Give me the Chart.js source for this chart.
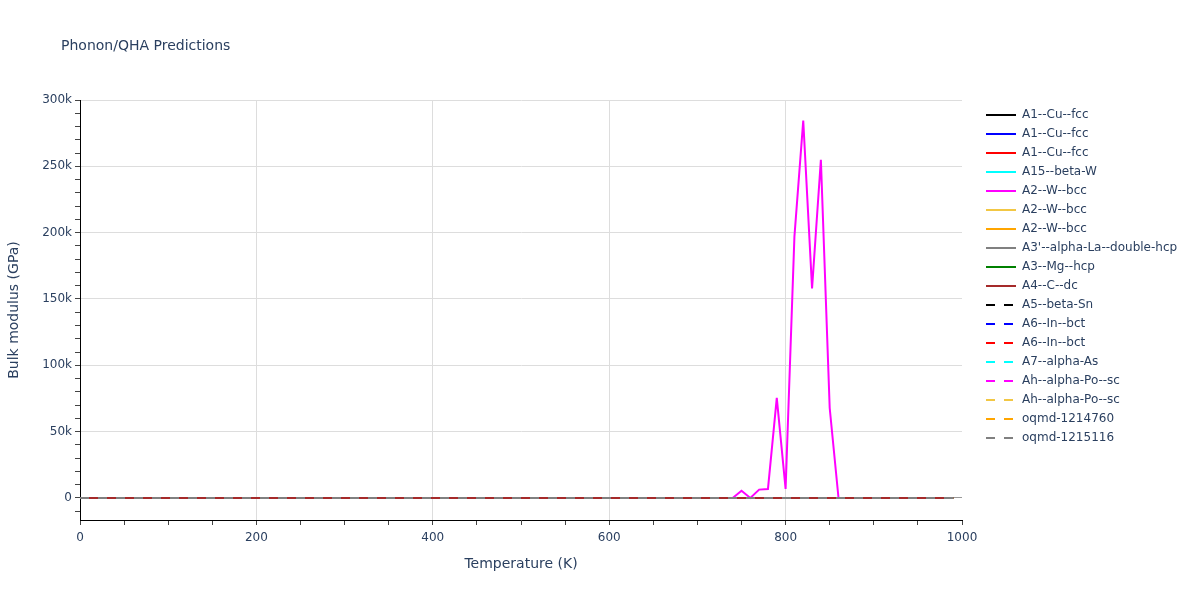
<!DOCTYPE html>
<html>
<head>
<meta charset="utf-8">
<script src="https://cdn.jsdelivr.net/npm/chart.js@4.4.1/dist/chart.umd.min.js"></script>
<style>
  html, body { margin: 0; padding: 0; background: #fff; }
  #wrap { width: 1200px; height: 600px; }
</style>
</head>
<body>
<div id="wrap"><canvas id="c" width="1200" height="600"></canvas></div>
<script>
// ---- data ----
const temperatures = [0,10,20,30,40,50,60,70,80,90,100,110,120,130,140,150,160,170,180,190,200,210,220,230,240,250,260,270,280,290,300,310,320,330,340,350,360,370,380,390,400,410,420,430,440,450,460,470,480,490,500,510,520,530,540,550,560,570,580,590,600,610,620,630,640,650,660,670,680,690,700,710,720,730,740,750,760,770,780,790,800,810,820,830,840,850,860,870,880,890,900,910,920,930,940,950,960,970,980,990];

// A2--W--bcc (magenta) bulk modulus, GPa
const a2WbccMagenta = [0,0,0,0,0,0,0,0,0,0,0,0,0,0,0,0,0,0,0,0,0,0,0,0,0,0,0,0,0,0,0,0,0,0,0,0,0,0,0,0,0,0,0,0,0,0,0,0,0,0,0,0,0,0,0,0,0,0,0,0,0,0,0,0,0,0,0,0,0,0,0,0,0,0,0,5500,0,6300,6800,75400,6800,197000,284500,158000,255000,67800,0,0,0,0,0,0,0,0,0,0,0,0,0,0];

// all other phases sit on the zero line at this scale (values read as ~0 GPa)
const flatNearZero = [0,0,0,0,0,0,0,0,0,0,0,0,0,0,0,0,0,0,0,0,0,0,0,0,0,0,0,0,0,0,0,0,0,0,0,0,0,0,0,0,0,0,0,0,0,0,0,0,0,0,0,0,0,0,0,0,0,0,0,0,0,0,0,0,0,0,0,0,0,0,0,0,0,0,0,0,0,0,0,0,0,0,0,0,0,0,0,0,0,0,0,0,0,0,0,0,0,0,0,0];

const seriesNames = ["A1--Cu--fcc","A1--Cu--fcc","A1--Cu--fcc","A15--beta-W","A2--W--bcc","A2--W--bcc","A2--W--bcc","A3'--alpha-La--double-hcp","A3--Mg--hcp","A4--C--dc","A5--beta-Sn","A6--In--bct","A6--In--bct","A7--alpha-As","Ah--alpha-Po--sc","Ah--alpha-Po--sc","oqmd-1214760","oqmd-1215116"];
const seriesValues = [flatNearZero,flatNearZero,flatNearZero,flatNearZero,a2WbccMagenta,flatNearZero,flatNearZero,flatNearZero,flatNearZero,flatNearZero,flatNearZero,flatNearZero,flatNearZero,flatNearZero,flatNearZero,flatNearZero,flatNearZero,flatNearZero];
const seriesColors = ["#000000","#0000ff","#ff0000","#00ffff","#ff00ff","#f2c744","#ffa500","#808080","#008000","#a52a2a","#000000","#0000ff","#ff0000","#00ffff","#ff00ff","#f2c744","#ffa500","#808080"];
const seriesDashed = [false,false,false,false,false,false,false,false,false,false,true,true,true,true,true,true,true,true];

// tick values (all tick marks) and the labelled ones
const xTickValues = [0,50,100,150,200,250,300,350,400,450,500,550,600,650,700,750,800,850,900,950,1000];
const xTickLabels = [0,200,400,600,800,1000];
const yTickValues = [-10000,0,10000,20000,30000,40000,50000,60000,70000,80000,90000,100000,110000,120000,130000,140000,150000,160000,170000,180000,190000,200000,210000,220000,230000,240000,250000,260000,270000,280000,290000,300000];
const yTickLabels = [0,50000,100000,150000,200000,250000,300000];

// ---- chart ----
const FONT = '"DejaVu Sans", Verdana, sans-serif';
const TXT = '#2a3f5f';
Chart.defaults.font.family = FONT;
Chart.defaults.color = TXT;

const N = seriesNames.length;
const datasets = seriesNames.map((name, i) => ({
  label: name,
  data: temperatures.map((t, k) => ({x: t, y: seriesValues[i][k]})),
  borderColor: seriesColors[i],
  backgroundColor: seriesColors[i],
  borderWidth: 2,
  borderDash: seriesDashed[i] ? [9, 9] : [],
  pointRadius: 0,
  pointHoverRadius: 0,
  tension: 0,
  fill: false,
  order: N - i
}));

const titlePlugin = {
  id: 'plotTitle',
  afterDraw(chart) {
    const ctx = chart.ctx;
    ctx.save();
    ctx.font = '14px ' + FONT;
    ctx.fillStyle = TXT;
    ctx.textBaseline = 'alphabetic';
    ctx.textAlign = 'left';
    ctx.fillText('Phonon/QHA Predictions', 61, 50);
    ctx.restore();
  }
};
const legendPlace = {
  id: 'legendPlace',
  beforeDraw(chart) {
    const lg = chart.legend;
    if (lg) { lg.left = 979; lg.top = 102; lg.right = 1200; lg.width = 221; }
  }
};

new Chart(document.getElementById('c'), {
  type: 'line',
  data: { datasets },
  plugins: [titlePlugin, legendPlace],
  options: {
    responsive: false,
    animation: false,
    events: [],
    layout: { padding: { top: 100, left: 0, bottom: 0, right: 78 } },
    plugins: {
      title: { display: false },
      tooltip: { enabled: false },
      legend: {
        display: true,
        position: 'right',
        align: 'start',
        maxWidth: 160,
        labels: {
          usePointStyle: true,
          pointStyle: 'line',
          pointStyleWidth: 30,
          boxHeight: 12,
          padding: 7,
          color: TXT,
          font: { size: 12, family: FONT },
          sort: (a, b) => a.datasetIndex - b.datasetIndex,
          generateLabels: chart => {
            const items = Chart.defaults.plugins.legend.labels.generateLabels(chart);
            return items.map(it => {
              const ds = chart.data.datasets[it.datasetIndex];
              return Object.assign(it, {
                strokeStyle: ds.borderColor,
                fillStyle: ds.borderColor,
                lineWidth: 2,
                lineDash: ds.borderDash,
                lineDashOffset: 0,
                lineCap: 'butt',
                pointStyle: 'line'
              });
            });
          }
        }
      }
    },
    scales: {
      x: {
        type: 'linear',
        min: 0, max: 1000,
        afterFit: s => { s.height = 80; },
        afterBuildTicks: s => { s.ticks = xTickValues.map(v => ({value: v})); },
        border: { display: true, color: '#000', width: 1 },
        grid: {
          color: c => (c.tick && xTickLabels.includes(c.tick.value) && c.tick.value !== 0 && c.tick.value !== 1000) ? '#dddddd' : 'rgba(0,0,0,0)',
          tickColor: '#444',
          tickLength: 5,
          drawTicks: true
        },
        ticks: {
          autoSkip: false,
          maxRotation: 0,
          padding: 6,
          color: TXT,
          font: { size: 12 },
          callback: v => xTickLabels.includes(v) ? String(v) : ''
        },
        title: {
          display: true,
          text: 'Temperature (K)',
          color: TXT,
          font: { size: 14 },
          padding: { top: 0, bottom: 27 }
        }
      },
      y: {
        type: 'linear',
        min: -16600, max: 300000,
        afterFit: s => { s.width = 80; },
        afterBuildTicks: s => { s.ticks = yTickValues.map(v => ({value: v})); },
        border: { display: true, color: '#000', width: 1 },
        grid: {
          color: c => {
            if (!c.tick) return 'rgba(0,0,0,0)';
            const v = c.tick.value;
            if (v === 0) return '#999999';
            return yTickLabels.includes(v) ? '#dddddd' : 'rgba(0,0,0,0)';
          },
          tickColor: '#444',
          tickLength: 5,
          drawTicks: true
        },
        ticks: {
          autoSkip: false,
          padding: 3,
          color: TXT,
          font: { size: 12 },
          callback: v => yTickLabels.includes(v) ? (v === 0 ? '0' : (v / 1000) + 'k') : ''
        },
        title: {
          display: true,
          text: 'Bulk modulus (GPa)',
          color: TXT,
          font: { size: 14 },
          padding: { top: 6, bottom: 0 }
        }
      }
    }
  }
});
</script>
</body>
</html>
